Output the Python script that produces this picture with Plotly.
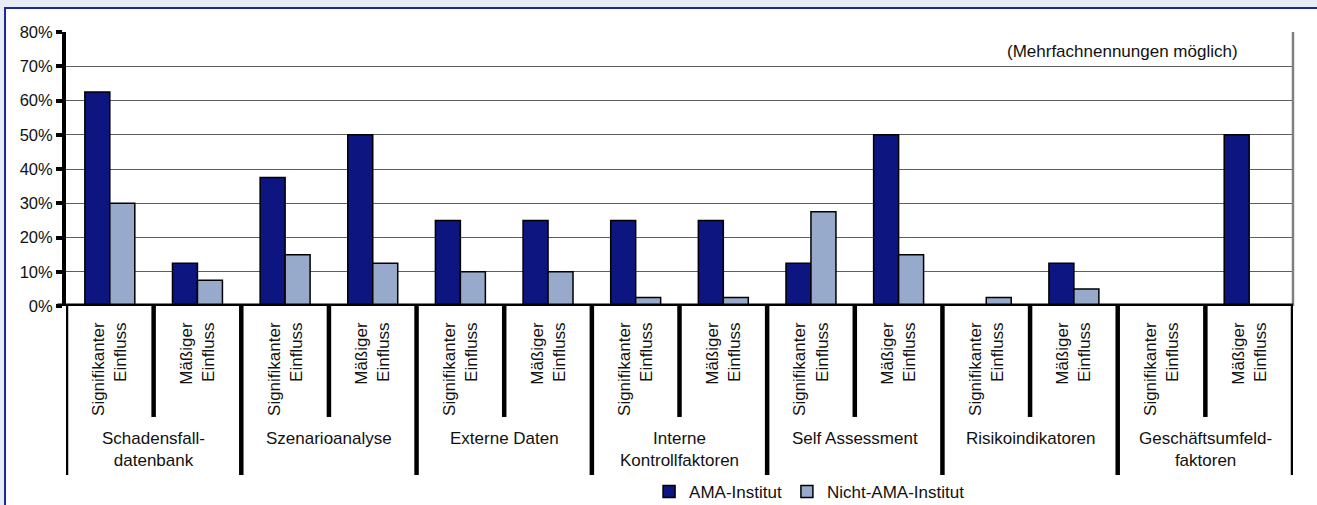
import plotly.graph_objects as go

groups = ["Schadensfall-<br>datenbank", "Szenarioanalyse", "Externe Daten",
          "Interne<br>Kontrollfaktoren", "Self Assessment", "Risikoindikatoren",
          "Geschäftsumfeld-<br>faktoren"]
subcats = ["Signifikanter<br>Einfluss", "Mäßiger<br>Einfluss"]
ama = [0.625, 0.125, 0.375, 0.50, 0.25, 0.25, 0.25, 0.25, 0.125, 0.50, 0.0, 0.125, 0.0, 0.50]
nicht = [0.30, 0.075, 0.15, 0.125, 0.10, 0.10, 0.025, 0.025, 0.275, 0.15, 0.025, 0.05, 0.0, 0.0]
series_names = ["AMA-Institut", "Nicht-AMA-Institut"]
yticks = [0, 0.1, 0.2, 0.3, 0.4, 0.5, 0.6, 0.7, 0.8]

FONT = "Liberation Sans, Arial, sans-serif"
n_sub = len(subcats)
xs = list(range(len(groups) * n_sub))
ticktext = [subcats[i % n_sub] for i in xs]

fig = go.Figure()
fig.add_trace(go.Bar(x=xs, y=ama, name=series_names[0],
                     marker=dict(color="#0C1580", line=dict(color="#000000", width=1.5))))
fig.add_trace(go.Bar(x=xs, y=nicht, name=series_names[1],
                     marker=dict(color="#98AACB", line=dict(color="#000000", width=1.5))))

shapes = []
# outer frame
shapes.append(dict(type="rect", xref="paper", yref="paper", x0=-0.0497, x1=1.2, y0=-1.0, y1=1.0876,
                   line=dict(color="#1C2A99", width=2), fillcolor="#FFFFFF", layer="below"))
# right border of plot area
shapes.append(dict(type="line", xref="paper", yref="paper", x0=1, x1=1, y0=0, y1=1,
                   line=dict(color="#808080", width=2.5)))
# category axis line at 0 %
shapes.append(dict(type="line", xref="paper", yref="y", x0=-0.007, x1=1.0, y0=0, y1=0,
                   line=dict(color="#000000", width=5), layer="above"))
# dividers
for g in range(len(groups) + 1):
    xg = g * n_sub - 0.5
    shapes.append(dict(type="line", xref="x", yref="paper", x0=xg, x1=xg, y0=0, y1=-0.617,
                       line=dict(color="#000000", width=4.5)))
for g in range(len(groups)):
    for s in range(1, n_sub):
        xsd = g * n_sub + s - 0.5
        shapes.append(dict(type="line", xref="x", yref="paper", x0=xsd, x1=xsd, y0=0, y1=-0.405,
                           line=dict(color="#000000", width=4.5)))

annotations = []
for g, name in enumerate(groups):
    annotations.append(dict(x=g * n_sub + (n_sub - 1) / 2, y=-0.44, xref="x", yref="paper",
                            text=name, showarrow=False, yanchor="top", xanchor="center",
                            font=dict(size=17, color="#111111", family=FONT)))
annotations.append(dict(x=0.861, y=0.93, xref="paper", yref="paper",
                        xanchor="center", yanchor="middle",
                        text="(Mehrfachnennungen möglich)", showarrow=False,
                        font=dict(size=17, color="#111111", family=FONT)))

fig.update_layout(
    width=1317, height=505,
    margin=dict(l=66, r=24, t=32, b=199, autoexpand=False),
    paper_bgcolor="#E8ECF6", plot_bgcolor="#E8ECF6",
    font=dict(family=FONT, size=17, color="#111111"),
    barmode="group", bargap=0.43, bargroupgap=0,
    shapes=shapes, annotations=annotations,
    legend=dict(orientation="h", x=0.606, xanchor="center", y=-0.679, yanchor="middle",
                font=dict(size=17, family=FONT), bgcolor="rgba(0,0,0,0)",
                traceorder="normal"),
    xaxis=dict(range=[-0.5, len(xs) - 0.5], tickvals=xs, ticktext=ticktext, tickangle=-90,
               showline=False, ticks="", automargin=False,
               showgrid=False, zeroline=False, ticklabelstandoff=12,
               tickfont=dict(size=17, family=FONT, color="#111111")),
    yaxis=dict(range=[0, 0.8001], tickvals=yticks, tickformat=".0%", automargin=False,
               showline=True, linecolor="#000000", linewidth=4,
               ticks="outside", ticklen=6, tickwidth=4, tickcolor="#000000",
               showgrid=True, gridcolor="#5E5E5E", gridwidth=1, zeroline=False,
               tickfont=dict(size=16.5, family=FONT, color="#111111")),
)

fig.write_html("out.html")
